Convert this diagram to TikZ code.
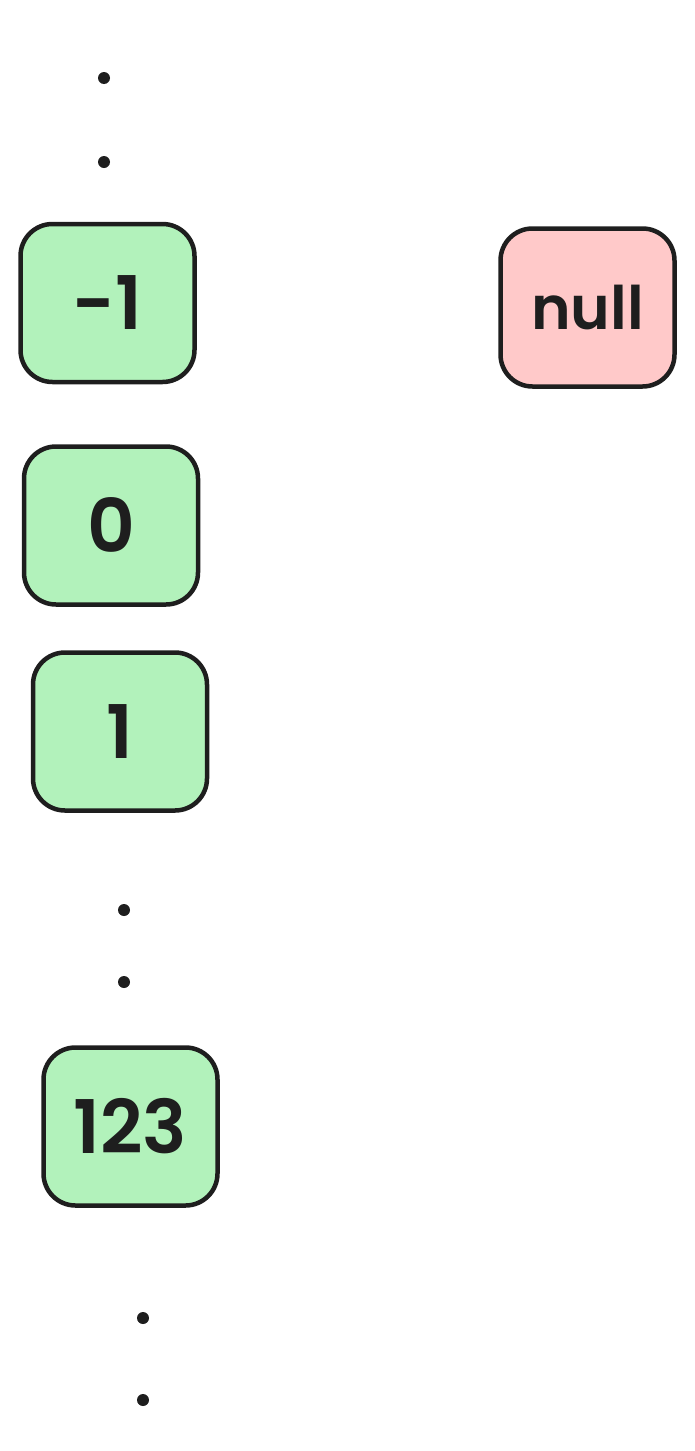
\documentclass[tikz,border=0pt]{standalone}
\usepackage{fontspec}
\setmainfont{Poppins}[BoldFont={* SemiBold}]
\definecolor{boxgreen}{HTML}{B2F2BB}
\definecolor{boxpink}{HTML}{FFC9C9}
\definecolor{ink}{HTML}{1E1E1E}
\begin{document}
\begin{tikzpicture}[x=1pt,y=-1pt,
  cell/.style={draw=ink, line width=4.5pt, rounded corners=32pt, minimum width=174pt, minimum height=158pt, inner sep=0pt, font=\fontsize{74}{74}\selectfont\bfseries\color{ink}},
  gcell/.style={cell, fill=boxgreen},
  pcell/.style={cell, fill=boxpink, font=\fontsize{60}{60}\selectfont\bfseries\color{ink}},
  dotmark/.style={fill=ink, draw=none, circle, minimum size=12pt, inner sep=0pt}]
\useasboundingbox (0,0) rectangle (695,1451);
\node[dotmark] (d1) at (104,78) {};
\node[dotmark] (d2) at (104,162) {};
\node[gcell] (m1) at (107.5,303) {-1};
\node[pcell] (nl) at (587.5,307.5) {null};
\node[gcell] (z) at (111,525.5) {0};
\node[gcell] (o) at (120,731.5) {1};
\node[dotmark] (d3) at (124,910) {};
\node[dotmark] (d4) at (124,982) {};
\node[gcell] (t) at (130.5,1126.5) {123};
\node[dotmark] (d5) at (143,1318) {};
\node[dotmark] (d6) at (143,1400) {};
\end{tikzpicture}
\end{document}
